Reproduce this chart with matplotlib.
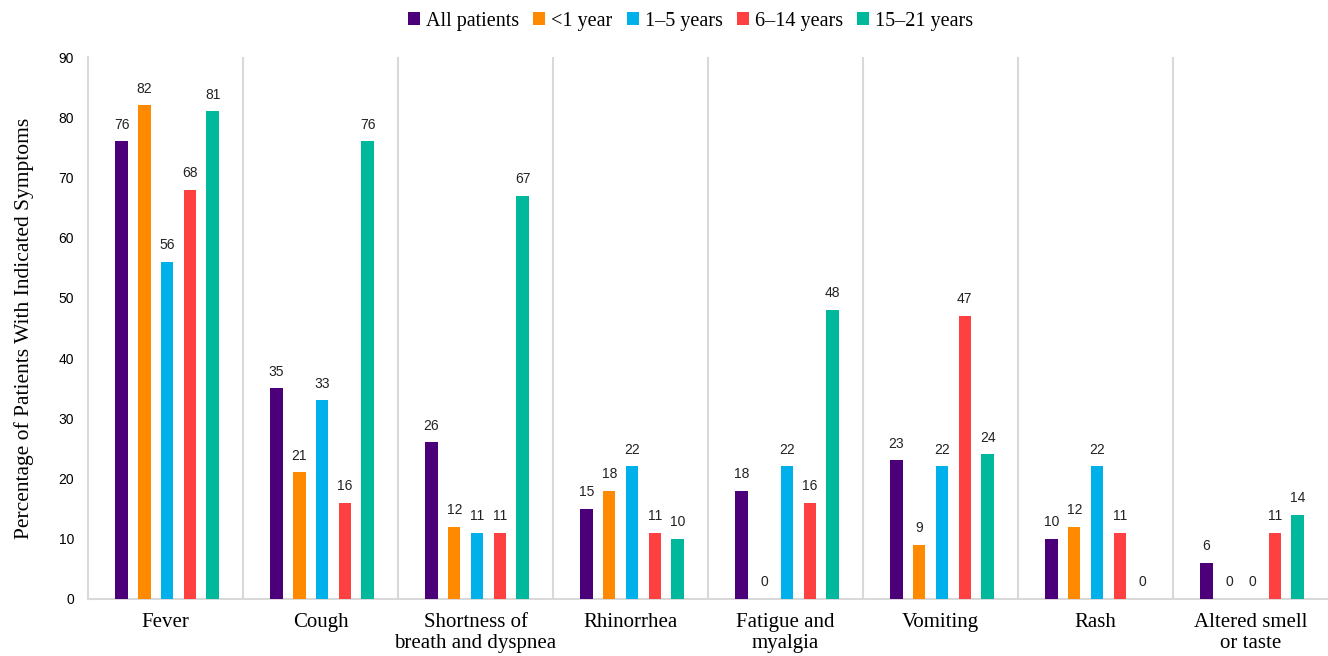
import matplotlib.pyplot as plt
import numpy as np

categories = ["Fever", "Cough", "Shortness of\nbreath and dyspnea", "Rhinorrhea",
              "Fatigue and\nmyalgia", "Vomiting", "Rash", "Altered smell\nor taste"]
groups = ["All patients", "<1 year", "1\u20135 years", "6\u201314 years", "15\u201321 years"]
all_patients = [76, 35, 26, 15, 18, 23, 10, 6]
under_1 = [82, 21, 12, 18, 0, 9, 12, 0]
age_1_5 = [56, 33, 11, 22, 22, 22, 22, 0]
age_6_14 = [68, 16, 11, 11, 16, 47, 11, 11]
age_15_21 = [81, 76, 67, 10, 48, 24, 0, 14]
colors = ["#4b0079", "#ff8a00", "#00b0ea", "#ff4040", "#00b89c"]

series = [all_patients, under_1, age_1_5, age_6_14, age_15_21]

fig = plt.figure(figsize=(13.28, 6.56), dpi=100)
ax = fig.add_axes([0.0663, 0.087, 0.9337, 0.826])

x = np.arange(len(categories))
step = 0.147
width = 0.08
for i, (vals, c, name) in enumerate(zip(series, colors, groups)):
    pos = x + (i - 2) * step + 0.01
    ax.bar(pos, vals, width, color=c, label=name, zorder=3)
    for p, v in zip(pos, vals):
        ax.text(p, v + 1.6, str(v), ha="center", va="bottom", fontsize=10,
                family="Liberation Sans", color="#222222")

# separators between categories
for b in x[:-1] + 0.5:
    ax.axvline(b, color="#d9d9d9", lw=1.5, zorder=1)

ax.set_xlim(-0.5, len(categories) - 0.5)
ax.set_ylim(0, 90)
ax.set_yticks(range(0, 91, 10))
ax.set_xticks(x)
ax.set_xticklabels(categories, family="Liberation Serif", fontsize=15, linespacing=1.15)
for t in ax.get_yticklabels():
    t.set_family("Liberation Sans")
    t.set_fontsize(10)
ax.tick_params(axis="both", length=0)
ax.tick_params(axis="x", pad=10)
ax.tick_params(axis="y", pad=10)
ax.set_ylabel("Percentage of Patients With Indicated Symptoms",
              family="Liberation Serif", fontsize=15.5, labelpad=18)

for s in ["top", "right"]:
    ax.spines[s].set_visible(False)
for s in ["left", "bottom"]:
    ax.spines[s].set_color("#d9d9d9")
    ax.spines[s].set_linewidth(1.5)

leg = fig.legend(loc="upper center", bbox_to_anchor=(0.52, 1.01), ncol=5, frameon=False,
                 prop={"family": "Liberation Serif", "size": 14.5}, handlelength=0.6,
                 handleheight=0.6, handletextpad=0.3, columnspacing=0.7)

fig.savefig("out.png", dpi=100)
